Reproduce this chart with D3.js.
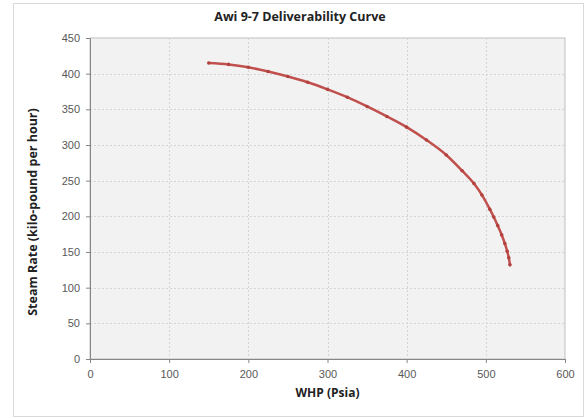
<!DOCTYPE html>
<html>
<head>
<meta charset="utf-8">
<script src="https://cdn.jsdelivr.net/npm/d3@7"></script>
<style>
  body { margin: 0; background: #fff; }
  svg { display: block; }
</style>
</head>
<body>
<div id="chart"></div>
<script>
// curve: wellhead pressure (psia) vs steam rate (kilo-pound/hr)
const whp = [150, 175, 200, 225, 250, 275, 300, 325, 350, 375, 400, 425, 450, 470, 485, 495, 505, 510, 515, 520, 524, 527, 529, 530.5];
const steamRate = [415, 413, 409, 403, 396, 388, 378, 367, 354, 340, 325, 307, 286, 264, 246, 230, 210, 199, 187, 174, 162, 151, 142, 132];
const xTicks = [0, 100, 200, 300, 400, 500, 600];
const yTicks = [0, 50, 100, 150, 200, 250, 300, 350, 400, 450];

const width = 586, height = 418;
const plot = {left: 90, right: 565, top: 38, bottom: 359};

const svg = d3.select('#chart')
    .append('svg')
    .attr('width', width)
    .attr('height', height)
    .style('font-family', '"Open Sans", "Liberation Sans", sans-serif');

// outer chart frame
svg.append('rect')
    .attr('x', 13.5).attr('y', 3.5)
    .attr('width', 570).attr('height', 413)
    .attr('fill', '#fff')
    .attr('stroke', '#d9d9d9');

const x = d3.scaleLinear().domain([0, 600]).range([plot.left, plot.right]);
const y = d3.scaleLinear().domain([0, 450]).range([plot.bottom, plot.top]);

// plot area
svg.append('rect')
    .attr('x', plot.left).attr('y', plot.top)
    .attr('width', plot.right - plot.left).attr('height', plot.bottom - plot.top)
    .attr('fill', '#f2f2f2')
    .attr('stroke', '#bfbfbf');

// gridlines
svg.append('g').selectAll('line')
    .data(yTicks.filter(d => d > 0 && d < 450))
    .join('line')
    .attr('x1', plot.left).attr('x2', plot.right)
    .attr('y1', d => Math.round(y(d)) + 0.5).attr('y2', d => Math.round(y(d)) + 0.5)
    .attr('stroke', '#d4d4d4')
    .attr('stroke-dasharray', '2,2');
svg.append('g').selectAll('line')
    .data(xTicks.filter(d => d > 0 && d < 600))
    .join('line')
    .attr('y1', plot.top).attr('y2', plot.bottom)
    .attr('x1', d => Math.round(x(d)) + 0.5).attr('x2', d => Math.round(x(d)) + 0.5)
    .attr('stroke', '#d4d4d4')
    .attr('stroke-dasharray', '2,2');

// axes
const xAxis = svg.append('g')
    .attr('transform', `translate(0,${plot.bottom})`)
    .call(d3.axisBottom(x).tickValues(xTicks).tickSize(4).tickPadding(7));
const yAxis = svg.append('g')
    .attr('transform', `translate(${plot.left},0)`)
    .call(d3.axisLeft(y).tickValues(yTicks).tickSize(4).tickPadding(6));
[xAxis, yAxis].forEach(a => {
    a.select('.domain').attr('stroke', '#868686');
    a.selectAll('.tick line').attr('stroke', '#868686');
    a.selectAll('.tick text')
        .attr('fill', '#595959')
        .style('font-size', '11px');
});

// curve
const pts = whp.map((d, i) => [d, steamRate[i]]);
svg.append('path')
    .datum(pts)
    .attr('fill', 'none')
    .attr('stroke', '#c0504d')
    .attr('stroke-width', 2.5)
    .attr('d', d3.line().x(d => x(d[0])).y(d => y(d[1])).curve(d3.curveMonotoneX));

svg.append('g').selectAll('circle')
    .data(pts)
    .join('circle')
    .attr('cx', d => x(d[0]))
    .attr('cy', d => y(d[1]))
    .attr('r', 1.8)
    .attr('fill', '#b3413e');

// texts
svg.append('text')
    .attr('x', 300).attr('y', 21)
    .attr('text-anchor', 'middle')
    .style('font-size', '12.5px').style('font-weight', 'bold')
    .attr('fill', '#222')
    .text('Awi 9-7 Deliverability Curve');

svg.append('text')
    .attr('x', (plot.left + plot.right) / 2).attr('y', 397)
    .attr('text-anchor', 'middle')
    .style('font-size', '12px').style('font-weight', 'bold')
    .attr('fill', '#222')
    .text('WHP (Psia)');

svg.append('text')
    .attr('transform', 'translate(37,212) rotate(-90)')
    .attr('text-anchor', 'middle')
    .style('font-size', '12.5px').style('font-weight', 'bold')
    .attr('fill', '#222')
    .text('Steam Rate (kilo-pound per hour)');
</script>
</body>
</html>
